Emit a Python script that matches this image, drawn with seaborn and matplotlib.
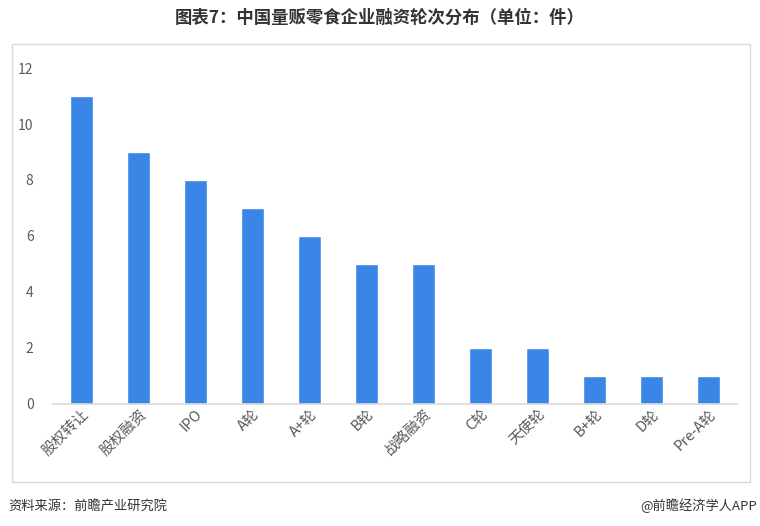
import matplotlib
matplotlib.use("Agg")
import matplotlib.pyplot as plt
import seaborn as sns
import pandas as pd
from matplotlib.patches import Rectangle

# 融资轮次 (件)
rounds = ["股权转让", "股权融资", "IPO", "A轮", "A+轮", "B轮", "战略融资",
          "C轮", "天使轮", "B+轮", "D轮", "Pre-A轮"]
counts = [11, 9, 8, 7, 6, 5, 5, 2, 2, 1, 1, 1]
y_ticks = [0, 2, 4, 6, 8, 10, 12]

df = pd.DataFrame({"round": rounds, "count": counts})

sns.set_style("white")
plt.rcParams['font.family'] = ['Noto Sans CJK SC', 'DejaVu Sans']

fig = plt.figure(figsize=(7.6, 5.26), dpi=100)
ax = fig.add_axes([0.0697, 0.232, 0.9, 0.6387])

sns.barplot(data=df, x="round", y="count", color="#3a86e6", saturation=1,
            width=0.4, ax=ax)

ax.set_ylim(0, 12)
ax.set_yticks(y_ticks)
ax.set_xlim(-0.5, len(rounds) - 0.5)
ax.set_xlabel("")
ax.set_ylabel("")
ax.tick_params(axis="y", colors="#595959", labelsize=10, length=0, pad=14)
ax.tick_params(axis="x", colors="#595959", labelsize=10.5, length=0, pad=2)
plt.setp(ax.get_xticklabels(), rotation=45, ha="right", rotation_mode="anchor")

for s in ["top", "right", "left"]:
    ax.spines[s].set_visible(False)
ax.spines["bottom"].set_color("#d9d9d9")
ax.spines["bottom"].set_linewidth(1.2)

# outer frame around the chart area
fig.patches.append(Rectangle((12 / 760, 1 - 482 / 526), 738 / 760, 438 / 526,
                             transform=fig.transFigure, fill=False,
                             edgecolor="#d9d9d9", linewidth=1))

fig.text(0.5, 1 - 18 / 526, "图表7：中国量贩零食企业融资轮次分布（单位：件）",
         ha="center", va="center", fontsize=12.5, fontweight="bold", color="#333333")
fig.text(8 / 760, 1 - 506 / 526, "资料来源：前瞻产业研究院",
         ha="left", va="center", fontsize=9.5, color="#333333")
fig.text(757 / 760, 1 - 506 / 526, "@前瞻经济学人APP",
         ha="right", va="center", fontsize=9.5, color="#333333")

fig.savefig("out.png", dpi=100)
